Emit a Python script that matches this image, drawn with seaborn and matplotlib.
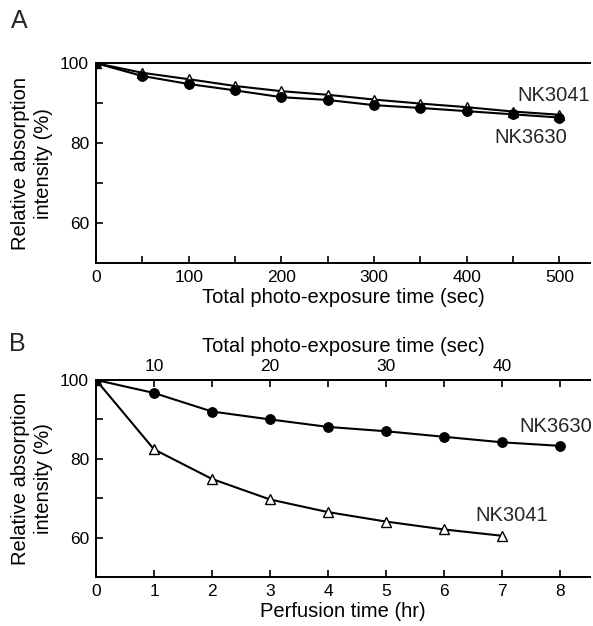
import matplotlib
matplotlib.use("Agg")
import matplotlib.pyplot as plt
import seaborn as sns
import pandas as pd
import numpy as np
from matplotlib.ticker import MultipleLocator, FixedLocator, FuncFormatter

sns.set_theme(style="ticks")
plt.rcParams['font.family'] = ['Liberation Sans', 'DejaVu Sans']

# Panel A data
a_time = [0, 50, 100, 150, 200, 250, 300, 350, 400, 450, 500]
a_nk3630 = [100, 96.8, 94.8, 93.2, 91.5, 90.8, 89.5, 88.8, 88.0, 87.2, 86.4]
a_nk3041 = [100, 97.6, 96.0, 94.3, 93.0, 92.1, 90.9, 89.9, 89.0, 87.9, 87.1]

# Panel B data
b_time = [0, 1, 2, 3, 4, 5, 6, 7, 8]
b_nk3630 = [100, 96.7, 92.0, 90.0, 88.1, 87.0, 85.6, 84.2, 83.3]
b_time_3041 = [0, 1, 2, 3, 4, 5, 6, 7]
b_nk3041 = [100, 82.4, 74.9, 69.7, 66.5, 64.1, 62.1, 60.5]

fig = plt.figure(figsize=(5.93, 6.26), dpi=100)
axA = fig.add_axes([0.162, 0.580, 0.833, 0.319])
axB = fig.add_axes([0.162, 0.078, 0.833, 0.315])

dfA = pd.DataFrame({"t": a_time, "c": a_nk3630, "tr": a_nk3041})
dfB1 = pd.DataFrame({"t": b_time, "v": b_nk3630})
dfB2 = pd.DataFrame({"t": b_time_3041, "v": b_nk3041})

lw = 1.5
sns.lineplot(data=dfA, x="t", y="tr", ax=axA, color="black", lw=lw, marker="^",
             markersize=7, markerfacecolor="white", markeredgecolor="black",
             markeredgewidth=1.0, zorder=3)
sns.lineplot(data=dfA, x="t", y="c", ax=axA, color="black", lw=lw, marker="o",
             markersize=7, markerfacecolor="black", markeredgecolor="black", zorder=4)

sns.lineplot(data=dfB1, x="t", y="v", ax=axB, color="black", lw=lw, marker="o",
             markersize=7, markerfacecolor="black", markeredgecolor="black", zorder=4)
sns.lineplot(data=dfB2, x="t", y="v", ax=axB, color="black", lw=lw, marker="^",
             markersize=7.5, markerfacecolor="white", markeredgecolor="black",
             markeredgewidth=1.0, zorder=3)

fs_tick = 12.5
fs_lab = 14.5

for ax in (axA, axB):
    ax.set_ylim(50, 100)
    ax.yaxis.set_major_locator(FixedLocator([60, 80, 100]))
    ax.yaxis.set_minor_locator(FixedLocator([70, 90]))
    ax.spines['right'].set_visible(False)
    for s in ('left', 'bottom', 'top'):
        ax.spines[s].set_color('black')
        ax.spines[s].set_linewidth(1.4)
    ax.tick_params(axis='both', which='both', direction='in', length=5, width=1.2,
                   colors='black', labelsize=fs_tick, pad=5)
    ax.tick_params(axis='x', which='both', top=False)
    ax.set_ylabel("Relative absorption\nintensity (%)", fontsize=fs_lab, color='black',
                  labelpad=5, linespacing=1.25)

axA.set_xlim(0, 533)
axA.xaxis.set_major_locator(FixedLocator([0, 100, 200, 300, 400, 500]))
axA.xaxis.set_minor_locator(FixedLocator([50, 150, 250, 350, 450]))
axA.set_xlabel("Total photo-exposure time (sec)", fontsize=fs_lab, color='black', labelpad=2)

axB.set_xlim(0, 8.52)
axB.xaxis.set_major_locator(FixedLocator(b_time))
axB.set_xlabel("Perfusion time (hr)", fontsize=fs_lab, color='black', labelpad=2)

sec = axB.secondary_xaxis('top', functions=(lambda h: 5 * h + 5, lambda s: (s - 5) / 5))
sec.xaxis.set_major_locator(FixedLocator([10, 20, 30, 40]))
sec.xaxis.set_minor_locator(FixedLocator([15, 25, 35, 45]))
sec.tick_params(axis='x', which='both', direction='in', length=5, width=1.2,
                labelsize=fs_tick, pad=4, colors='black')
sec.spines['top'].set_linewidth(1.4)
sec.set_xlabel("Total photo-exposure time (sec)", fontsize=fs_lab, color='black', labelpad=5)

axA.text(455, 92, "NK3041", fontsize=fs_lab, ha='left', va='center')
axA.text(430, 81.3, "NK3630", fontsize=fs_lab, ha='left', va='center')
axB.text(7.3, 88.2, "NK3630", fontsize=fs_lab, ha='left', va='center')
axB.text(6.55, 65.6, "NK3041", fontsize=fs_lab, ha='left', va='center')

fig.text(0.018, 0.966, "A", fontsize=18, ha='left', va='center')
fig.text(0.016, 0.450, "B", fontsize=18, ha='left', va='center')

fig.savefig("out.png", dpi=100)
